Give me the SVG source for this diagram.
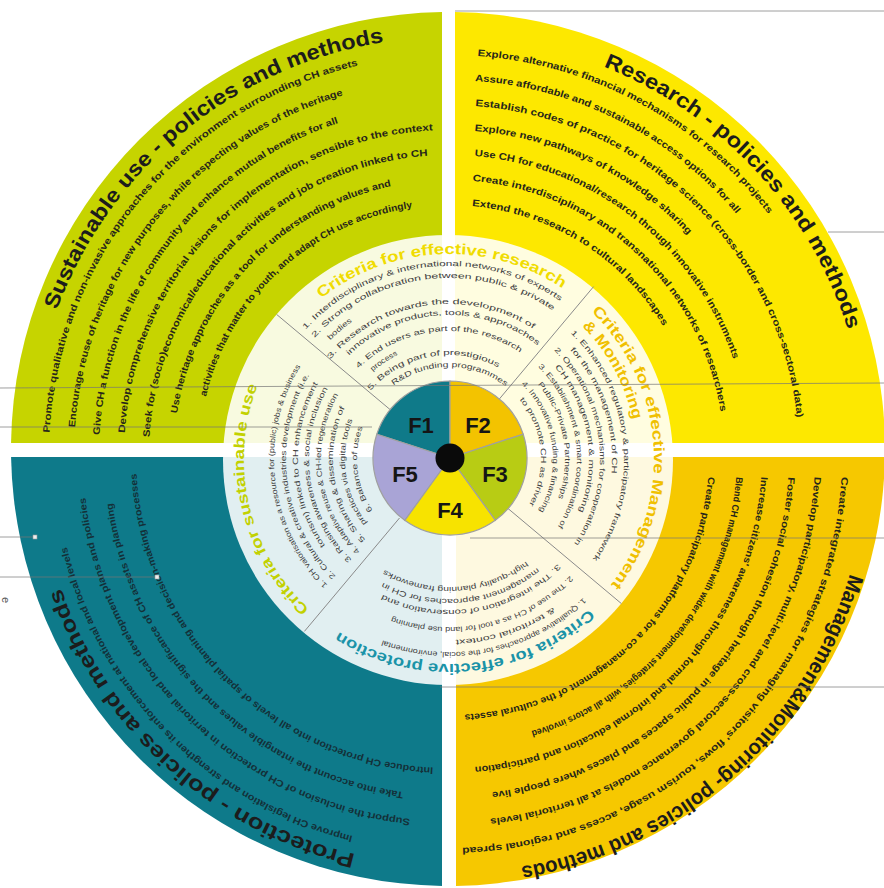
<svg xmlns="http://www.w3.org/2000/svg" xmlns:xlink="http://www.w3.org/1999/xlink" width="884" height="888" viewBox="0 0 884 888">
<defs>
<style>
.q{font-family:"Liberation Sans",Arial,sans-serif;font-size:9.5px;font-weight:bold;fill:#26261a}
.qd{font-family:"Liberation Sans",Arial,sans-serif;font-size:9.5px;font-weight:bold;fill:#143038}
.qt{font-family:"Liberation Sans",Arial,sans-serif;font-size:21px;font-weight:bold;fill:#1c1c1c}
.ct{font-family:"Liberation Sans",Arial,sans-serif;font-size:15px;font-weight:bold}
.ci{font-family:"Liberation Sans",Arial,sans-serif;font-size:7.5px;fill:#404040}
.fl{font-family:"Liberation Sans",Arial,sans-serif;font-size:22px;font-weight:bold;fill:#151515;text-anchor:middle}
.sep{stroke:#8a8a8a;stroke-width:1;fill:none}
.art{stroke:#777;stroke-width:1;opacity:.7}
.sec{stroke:#a0a0a0;stroke-width:1.2}
</style>
<!-- quadrant text circles, centre 449,455, start at top, clockwise -->
<path id="Q418" d="M449,37 A418,418 0 1 1 449,873 A418,418 0 1 1 449,37"/>
<path id="Q410" d="M449,45 A410,410 0 1 1 449,865 A410,410 0 1 1 449,45"/>
<path id="Q400" d="M449,55 A400,400 0 1 1 449,855 A400,400 0 1 1 449,55"/>
<path id="Q393" d="M449,62 A393,393 0 1 1 449,848 A393,393 0 1 1 449,62"/>
<path id="Q375" d="M449,80 A375,375 0 1 1 449,830 A375,375 0 1 1 449,80"/>
<path id="Q366" d="M449,89 A366,366 0 1 1 449,821 A366,366 0 1 1 449,89"/>
<path id="Q350" d="M449,105 A350,350 0 1 1 449,805 A350,350 0 1 1 449,105"/>
<path id="Q340" d="M449,115 A340,340 0 1 1 449,795 A340,340 0 1 1 449,115"/>
<path id="Q325" d="M449,130 A325,325 0 1 1 449,780 A325,325 0 1 1 449,130"/>
<path id="Q313" d="M449,142 A313,313 0 1 1 449,768 A313,313 0 1 1 449,142"/>
<path id="Q300" d="M449,155 A300,300 0 1 1 449,755 A300,300 0 1 1 449,155"/>
<path id="Q288" d="M449,167 A288,288 0 1 1 449,743 A288,288 0 1 1 449,167"/>
<path id="Q275" d="M449,180 A275,275 0 1 1 449,730 A275,275 0 1 1 449,180"/>
<path id="Q260" d="M449,195 A260,260 0 1 1 449,715 A260,260 0 1 1 449,195"/>
<path id="Q250" d="M449,205 A250,250 0 1 1 449,705 A250,250 0 1 1 449,205"/>
<!-- inner text circles, centre 449,459 -->
<path id="I205" d="M449,254 A205,205 0 1 1 449,664 A205,205 0 1 1 449,254"/>
<path id="I193" d="M449,266 A193,193 0 1 1 449,652 A193,193 0 1 1 449,266"/>
<path id="I188" d="M449,271 A188,188 0 1 1 449,647 A188,188 0 1 1 449,271"/>
<path id="I181" d="M449,278 A181,181 0 1 1 449,640 A181,181 0 1 1 449,278"/>
<path id="I175" d="M449,284 A175,175 0 1 1 449,634 A175,175 0 1 1 449,284"/>
<path id="I168" d="M449,291 A168,168 0 1 1 449,627 A168,168 0 1 1 449,291"/>
<path id="I163" d="M449,296 A163,163 0 1 1 449,622 A163,163 0 1 1 449,296"/>
<path id="I155" d="M449,304 A155,155 0 1 1 449,614 A155,155 0 1 1 449,304"/>
<path id="I151" d="M449,308 A151,151 0 1 1 449,610 A151,151 0 1 1 449,308"/>
<path id="I144" d="M449,315 A144,144 0 1 1 449,603 A144,144 0 1 1 449,315"/>
<path id="I140" d="M449,319 A140,140 0 1 1 449,599 A140,140 0 1 1 449,319"/>
<path id="I128" d="M449,331 A128,128 0 1 1 449,587 A128,128 0 1 1 449,331"/>
<path id="I116" d="M449,343 A116,116 0 1 1 449,575 A116,116 0 1 1 449,343"/>
<path id="I104" d="M449,355 A104,104 0 1 1 449,563 A104,104 0 1 1 449,355"/>
<path id="I92" d="M449,367 A92,92 0 1 1 449,551 A92,92 0 1 1 449,367"/>
</defs>
<rect width="884" height="888" fill="#ffffff"/>

<g id="quadrant-sustainable-use">
<path d="M442,443 L442,12.04 A437,437 0 0 0 11.04,443 Z" fill="#c6d400"/>
<text class="qt" transform="rotate(290.3 449 455)"><textPath xlink:href="#Q418" textLength="443" lengthAdjust="spacingAndGlyphs">Sustainable use - policies and methods</textPath></text>
<text class="q" transform="rotate(273.2 449 455)"><textPath xlink:href="#Q400" textLength="514" lengthAdjust="spacingAndGlyphs">Promote qualitative and non-invasive approaches for the environment surrounding CH assets</textPath></text>
<text class="q" transform="rotate(274.2 449 455)"><textPath xlink:href="#Q375" textLength="454" lengthAdjust="spacingAndGlyphs">Encourage reuse of heritage for new purposes, while respecting values of the heritage</textPath></text>
<text class="q" transform="rotate(273.3 449 455)"><textPath xlink:href="#Q350" textLength="417" lengthAdjust="spacingAndGlyphs">Give CH a function in the life of community and enhance mutual benefits for all</textPath></text>
<text class="q" transform="rotate(273.9 449 455)"><textPath xlink:href="#Q325" textLength="472" lengthAdjust="spacingAndGlyphs">Develop comprehensive territorial visions for implementation, sensible to the context</textPath></text>
<text class="q" transform="rotate(273.4 449 455)"><textPath xlink:href="#Q300" textLength="432" lengthAdjust="spacingAndGlyphs">Seek for (socio)economical/educational activities and job creation linked to CH</textPath></text>
<text class="q" transform="rotate(278.7 449 455)"><textPath xlink:href="#Q275" textLength="332" lengthAdjust="spacingAndGlyphs">Use heritage approaches as a tool for understanding values and</textPath></text>
<text class="q" transform="rotate(283.5 449 455)"><textPath xlink:href="#Q250" textLength="297" lengthAdjust="spacingAndGlyphs">activities that matter to youth, and adapt CH use accordingly</textPath></text>
</g>

<g id="quadrant-research">
<path d="M455,443 L455,12.06 A437,437 0 0 1 884.96,443 Z" fill="#fde800"/>
<text class="qt" transform="rotate(21.7 449 455)"><textPath xlink:href="#Q418" textLength="371" lengthAdjust="spacingAndGlyphs">Research - policies and methods</textPath></text>
<text class="q" transform="rotate(4.1 449 455)"><textPath xlink:href="#Q400" textLength="341" lengthAdjust="spacingAndGlyphs">Explore alternative financial mechanisms for research projects</textPath></text>
<text class="q" transform="rotate(4 449 455)"><textPath xlink:href="#Q375" textLength="301" lengthAdjust="spacingAndGlyphs">Assure affordable and sustainable access options for all</textPath></text>
<text class="q" transform="rotate(4.3 449 455)"><textPath xlink:href="#Q350" textLength="486" lengthAdjust="spacingAndGlyphs">Establish codes of practice for heritage science (cross-border and cross-sectoral data)</textPath></text>
<text class="q" transform="rotate(4.5 449 455)"><textPath xlink:href="#Q325" textLength="243" lengthAdjust="spacingAndGlyphs">Explore new pathways of knowledge sharing</textPath></text>
<text class="q" transform="rotate(4.9 449 455)"><textPath xlink:href="#Q300" textLength="348" lengthAdjust="spacingAndGlyphs">Use CH for educational/research through innovative instruments</textPath></text>
<text class="q" transform="rotate(4.9 449 455)"><textPath xlink:href="#Q275" textLength="365" lengthAdjust="spacingAndGlyphs">Create interdisciplinary and transnational networks of researchers</textPath></text>
<text class="q" transform="rotate(5.3 449 455)"><textPath xlink:href="#Q250" textLength="234" lengthAdjust="spacingAndGlyphs">Extend the research to cultural landscapes</textPath></text>
</g>

<g id="quadrant-protection">
<path d="M442,457 L11.07,457 A437,437 0 0 0 442,885.96 Z" fill="#0e7a8a"/>
<text class="qt" transform="rotate(193.2 449 455)"><textPath xlink:href="#Q410" textLength="414" lengthAdjust="spacingAndGlyphs">Protection - policies and methods</textPath></text>
<text class="qd" transform="rotate(182.9 449 455)"><textPath xlink:href="#Q313" textLength="457" lengthAdjust="spacingAndGlyphs">Introduce CH protection into all levels of spatial planning and decision-making processes</textPath></text>
<text class="qd" transform="rotate(187.7 449 455)"><textPath xlink:href="#Q340" textLength="440" lengthAdjust="spacingAndGlyphs">Take into account the intangible values and the significance of CH assets in planning</textPath></text>
<text class="qd" transform="rotate(186.1 449 455)"><textPath xlink:href="#Q366" textLength="493" lengthAdjust="spacingAndGlyphs">Support the inclusion of CH protection in territorial and local development plans and policies</textPath></text>
<text class="qd" transform="rotate(194.2 449 455)"><textPath xlink:href="#Q393" textLength="427" lengthAdjust="spacingAndGlyphs">Improve CH legislation and strengthen its enforcement at national and local levels</textPath></text>
</g>

<g id="quadrant-management">
<path d="M456,457 L456,885.93 A437,437 0 0 0 884.93,457 Z" fill="#f6c800"/>
<text class="qt" transform="rotate(106.5 449 455)"><textPath xlink:href="#Q418" textLength="464" lengthAdjust="spacingAndGlyphs">Management&amp;Monitoring- policies and methods</textPath></text>
<text class="q" transform="rotate(94.8 449 455)"><textPath xlink:href="#Q260" textLength="371" lengthAdjust="spacingAndGlyphs">Create participatory platforms for a co-management of the cultural assets</textPath></text>
<text class="q" transform="rotate(94.4 449 455)"><textPath xlink:href="#Q288" textLength="347" lengthAdjust="spacingAndGlyphs">Blend CH management with wider development strategies, with all actors involved</textPath></text>
<text class="q" transform="rotate(94 449 455)"><textPath xlink:href="#Q313" textLength="444" lengthAdjust="spacingAndGlyphs">Increase citizens' awareness through formal and informal education and participation</textPath></text>
<text class="q" transform="rotate(93.7 449 455)"><textPath xlink:href="#Q340" textLength="469" lengthAdjust="spacingAndGlyphs">Foster social cohesion through heritage in public spaces and places where people live</textPath></text>
<text class="q" transform="rotate(93.4 449 455)"><textPath xlink:href="#Q366" textLength="512" lengthAdjust="spacingAndGlyphs">Develop participatory, multi-level and cross-sectoral governance models at all territorial levels</textPath></text>
<text class="q" transform="rotate(93.2 449 455)"><textPath xlink:href="#Q393" textLength="582" lengthAdjust="spacingAndGlyphs">Create integrated strategies for managing visitors' flows, tourism usage, access and regional spread</textPath></text>
</g>

<g id="inner-disk">
<circle cx="448" cy="460" r="225" fill="#ffffff" fill-opacity="0.88"/>
</g>

<g id="connectors">
<line class="sep" x1="390" y1="409.5" x2="276.6" y2="314.4"/>
<line class="sep" x1="498.5" y1="400" x2="593.6" y2="286.6"/>
<line class="sep" x1="508" y1="508.5" x2="621.4" y2="603.6"/>
<line class="sep" x1="399.5" y1="518" x2="304.4" y2="631.4"/>
</g>

<g id="criteria-research">
<text class="ct" fill="#f0dc00" transform="rotate(-38.5 449 459)"><textPath xlink:href="#I205" textLength="258" lengthAdjust="spacingAndGlyphs">Criteria for effective research</textPath></text>
<text class="ci" transform="rotate(-48 449 459)"><textPath xlink:href="#I193" textLength="280" lengthAdjust="spacingAndGlyphs">1. Interdisciplinary &amp; international networks of experts</textPath></text>
<text class="ci" transform="rotate(-48 449 459)"><textPath xlink:href="#I181" textLength="262" lengthAdjust="spacingAndGlyphs">2. Strong collaboration between public &amp; private</textPath></text>
<text class="ci" transform="rotate(-45 449 459)"><textPath xlink:href="#I168" textLength="29" lengthAdjust="spacingAndGlyphs">bodies</textPath></text>
<text class="ci" transform="rotate(-50 449 459)"><textPath xlink:href="#I155" textLength="224" lengthAdjust="spacingAndGlyphs">3. Research towards the development of</textPath></text>
<text class="ci" transform="rotate(-44 449 459)"><textPath xlink:href="#I144" textLength="206" lengthAdjust="spacingAndGlyphs">innovative products, tools &amp; approaches</textPath></text>
<text class="ci" transform="rotate(-45 449 459)"><textPath xlink:href="#I128" textLength="176" lengthAdjust="spacingAndGlyphs">4. End users as part of the research</textPath></text>
<text class="ci" transform="rotate(-41 449 459)"><textPath xlink:href="#I116" textLength="30" lengthAdjust="spacingAndGlyphs">process</textPath></text>
<text class="ci" transform="rotate(-49 449 459)"><textPath xlink:href="#I104" textLength="140" lengthAdjust="spacingAndGlyphs">5. Being part of prestigious</textPath></text>
<text class="ci" transform="rotate(-37 449 459)"><textPath xlink:href="#I92" textLength="120" lengthAdjust="spacingAndGlyphs">R&amp;D funding programmes</textPath></text>
</g>

<g id="criteria-management">
<text class="ct" fill="#f0c000" transform="rotate(44 449 459)"><textPath xlink:href="#I205" textLength="300" lengthAdjust="spacingAndGlyphs">Criteria for effective Management</textPath></text>
<text class="ct" fill="#f0c000" transform="rotate(45 449 459)"><textPath xlink:href="#I188" textLength="108" lengthAdjust="spacingAndGlyphs">&amp; Monitoring</textPath></text>
<text class="ci" transform="rotate(44 449 459)"><textPath xlink:href="#I175" textLength="247" lengthAdjust="spacingAndGlyphs">1. Enhanced regulatory &amp; participatory framework</textPath></text>
<text class="ci" transform="rotate(48 449 459)"><textPath xlink:href="#I163" textLength="134" lengthAdjust="spacingAndGlyphs">for the management of CH</textPath></text>
<text class="ci" transform="rotate(44 449 459)"><textPath xlink:href="#I151" textLength="211" lengthAdjust="spacingAndGlyphs">2. Operational mechanisms for cooperation in</textPath></text>
<text class="ci" transform="rotate(49 449 459)"><textPath xlink:href="#I140" textLength="154" lengthAdjust="spacingAndGlyphs">CH management &amp; monitoring</textPath></text>
<text class="ci" transform="rotate(44 449 459)"><textPath xlink:href="#I128" textLength="174" lengthAdjust="spacingAndGlyphs">3. Establishment &amp; smart coordination of</textPath></text>
<text class="ci" transform="rotate(50 449 459)"><textPath xlink:href="#I116" textLength="121" lengthAdjust="spacingAndGlyphs">Public-Private Partnerships</textPath></text>
<text class="ci" transform="rotate(44 449 459)"><textPath xlink:href="#I104" textLength="138" lengthAdjust="spacingAndGlyphs">4. Innovative funding &amp; financing</textPath></text>
<text class="ci" transform="rotate(50 449 459)"><textPath xlink:href="#I92" textLength="112" lengthAdjust="spacingAndGlyphs">to promote CH as driver</textPath></text>
</g>

<g id="criteria-protection">
<text class="ct" fill="#1a93a8" transform="rotate(137 449 459)"><textPath xlink:href="#I205" textLength="270" lengthAdjust="spacingAndGlyphs">Criteria for effective protection</textPath></text>
<text class="ci" transform="rotate(136 449 459)"><textPath xlink:href="#I193" textLength="216" lengthAdjust="spacingAndGlyphs">1. Qualitative approaches for the social, environmental</textPath></text>
<text class="ci" transform="rotate(145 449 459)"><textPath xlink:href="#I181" textLength="104" lengthAdjust="spacingAndGlyphs">&amp; territorial context</textPath></text>
<text class="ci" transform="rotate(134 449 459)"><textPath xlink:href="#I168" textLength="193" lengthAdjust="spacingAndGlyphs">2. The use of CH as a tool for land use planning</textPath></text>
<text class="ci" transform="rotate(134 449 459)"><textPath xlink:href="#I151" textLength="190" lengthAdjust="spacingAndGlyphs">3. The integration of conservation and</textPath></text>
<text class="ci" transform="rotate(141 449 459)"><textPath xlink:href="#I140" textLength="164" lengthAdjust="spacingAndGlyphs">management approaches for CH in</textPath></text>
<text class="ci" transform="rotate(143 449 459)"><textPath xlink:href="#I128" textLength="150" lengthAdjust="spacingAndGlyphs">high-quality planning frameworks</textPath></text>
</g>

<g id="criteria-sustainable-use">
<text class="ct" fill="#c2d100" transform="rotate(223 449 459)"><textPath xlink:href="#I205" textLength="243" lengthAdjust="spacingAndGlyphs">Criteria for sustainable use</textPath></text>
<text class="ci" transform="rotate(224 449 459)"><textPath xlink:href="#I175" textLength="238" lengthAdjust="spacingAndGlyphs">1. CH valorisation as a resource for (public) jobs &amp; business</textPath></text>
<text class="ci" transform="rotate(224 449 459)"><textPath xlink:href="#I163" textLength="219" lengthAdjust="spacingAndGlyphs">2. Cultural &amp; creative industries development (i.e.</textPath></text>
<text class="ci" transform="rotate(235 449 459)"><textPath xlink:href="#I151" textLength="171" lengthAdjust="spacingAndGlyphs">tourism) linked to CH enhancement</textPath></text>
<text class="ci" transform="rotate(224 449 459)"><textPath xlink:href="#I140" textLength="186" lengthAdjust="spacingAndGlyphs">3. Raising awareness &amp; social inclusion</textPath></text>
<text class="ci" transform="rotate(224 449 459)"><textPath xlink:href="#I128" textLength="170" lengthAdjust="spacingAndGlyphs">4. Adaptive reuse &amp; CH-led regeneration</textPath></text>
<text class="ci" transform="rotate(226 449 459)"><textPath xlink:href="#I116" textLength="142" lengthAdjust="spacingAndGlyphs">5. Sharing &amp; dissemination of</textPath></text>
<text class="ci" transform="rotate(232 449 459)"><textPath xlink:href="#I104" textLength="109" lengthAdjust="spacingAndGlyphs">practices via digital tools</textPath></text>
<text class="ci" transform="rotate(236 449 459)"><textPath xlink:href="#I92" textLength="87" lengthAdjust="spacingAndGlyphs">6. Balance of uses</textPath></text>
</g>

<g id="pie">
<g id="F1"><path class="sec" d="M450,458 L376.8,434.2 A77,77 0 0 1 450,381 Z" fill="#0f7a89"/><text class="fl" x="421" y="433">F1</text></g>
<g id="F2"><path class="sec" d="M450,458 L450,381 A77,77 0 0 1 523.2,434.2 Z" fill="#f3c300"/><text class="fl" x="478" y="433">F2</text></g>
<g id="F3"><path class="sec" d="M450,458 L523.2,434.2 A77,77 0 0 1 495.3,520.3 Z" fill="#b8cc14"/><text class="fl" x="495" y="482">F3</text></g>
<g id="F4"><path class="sec" d="M450,458 L495.3,520.3 A77,77 0 0 1 404.7,520.3 Z" fill="#f7e300"/><text class="fl" x="450" y="518">F4</text></g>
<g id="F5"><path class="sec" d="M450,458 L404.7,520.3 A77,77 0 0 1 376.8,434.2 Z" fill="#a9a4d6"/><text class="fl" x="405" y="482">F5</text></g>
<circle id="hub" cx="450" cy="458" r="14.5" fill="#0a0a0a"/>
</g>

<g id="page-marks">
<line class="art" x1="455" y1="11" x2="884" y2="11"/>
<line class="art" x1="828" y1="232" x2="884" y2="232"/>
<line class="art" x1="0" y1="388" x2="884" y2="383"/>
<line class="art" x1="0" y1="427" x2="372" y2="427"/>
<line class="art" x1="0" y1="537" x2="33" y2="537"/>
<line class="art" x1="0" y1="577" x2="155" y2="577"/>
<line class="art" x1="470" y1="538" x2="884" y2="538"/>
<line class="art" x1="440" y1="687" x2="884" y2="687"/>
<rect x="33" y="535" width="4" height="4" fill="#eeeeee" stroke="#999" stroke-width="0.6"/>
<rect x="155" y="575" width="4" height="4" fill="#eeeeee" stroke="#999" stroke-width="0.6"/>
<text x="2" y="597" transform="rotate(90 2 597)" font-family="Liberation Sans, Arial, sans-serif" font-size="11" fill="#555">e</text>
</g>
</svg>
